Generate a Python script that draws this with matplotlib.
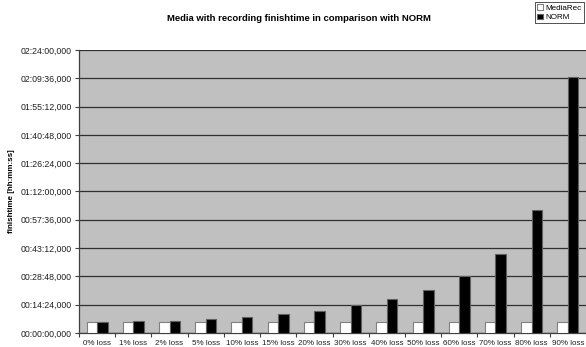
import numpy as np
import matplotlib.pyplot as plt
from matplotlib.ticker import FixedLocator, FuncFormatter

plt.rcParams["font.family"] = ["Liberation Sans", "DejaVu Sans"]

# finish times in seconds per loss rate
CATEGORIES = ["0% loss", "1% loss", "2% loss", "5% loss", "10% loss", "15% loss", "20% loss",
              "30% loss", "40% loss", "50% loss", "60% loss", "70% loss", "80% loss", "90% loss"]
MEDIAREC = [324, 324, 324, 324, 324, 324, 324, 324, 324, 324, 324, 324, 324, 324]
NORM = [324, 355, 355, 427, 498, 590, 660, 845, 1047, 1303, 1750, 2421, 3755, 7806]

STEP = 864  # 00:14:24
Y_MAX = 8640


def fmt_time(v, _pos=None):
    v = int(round(v))
    h, rem = divmod(v, 3600)
    m, s = divmod(rem, 60)
    return f"{h:02d}:{m:02d}:{s:02d},000"


fig = plt.figure(figsize=(5.86, 3.47), dpi=100)
ax = fig.add_axes([79 / 586, 14 / 347, 507 / 586, 283 / 347])
ax.set_facecolor("#c0c0c0")

x = np.arange(len(CATEGORIES))
w = 0.29
ax.bar(x - w / 2, MEDIAREC, width=w, color="white", edgecolor="#808080", linewidth=0.8,
       label="MediaRec", zorder=3)
ax.bar(x + w / 2, NORM, width=w, color="black", edgecolor="#606060", linewidth=0.8,
       label="NORM", zorder=3)

ax.set_xlim(-0.5, len(CATEGORIES) - 0.5)
ax.set_ylim(0, Y_MAX)

ax.yaxis.set_major_locator(FixedLocator(np.arange(0, Y_MAX + 1, STEP)))
ax.yaxis.set_major_formatter(FuncFormatter(fmt_time))
ax.grid(axis="y", color="#303030", linewidth=0.9, zorder=1)

ax.set_xticks(x)
ax.set_xticklabels(CATEGORIES)
ax.xaxis.set_minor_locator(FixedLocator(np.arange(-0.5, len(CATEGORIES), 1.0)))
ax.tick_params(axis="x", which="major", length=0, labelsize=5.8, pad=5, colors="#202020")
ax.tick_params(axis="x", which="minor", length=3, width=0.8, color="#404040")
ax.tick_params(axis="y", length=3, width=0.8, color="#404040", labelsize=6.3, pad=2,
               labelcolor="#202020")

for side in ["top", "right"]:
    ax.spines[side].set_visible(False)
ax.spines["left"].set_color("#404040")
ax.spines["bottom"].set_color("#404040")
ax.spines["left"].set_linewidth(0.9)
ax.spines["bottom"].set_linewidth(0.9)

ax.set_ylabel("finishtime [hh:mm:ss]", fontsize=5.8, fontweight="bold", labelpad=4)
fig.suptitle("Media with recording finishtime in comparison with NORM", x=0.51, y=0.96,
             fontsize=6.8, fontweight="bold")

leg = fig.legend(loc="upper right", bbox_to_anchor=(1.0, 1.0), fontsize=5.8, frameon=True,
                 fancybox=False, edgecolor="black", borderpad=0.25, handlelength=0.7,
                 handleheight=0.7, handletextpad=0.3, labelspacing=0.2, borderaxespad=0.3)
leg.get_frame().set_linewidth(0.6)

fig.savefig("out.png", dpi=100)
